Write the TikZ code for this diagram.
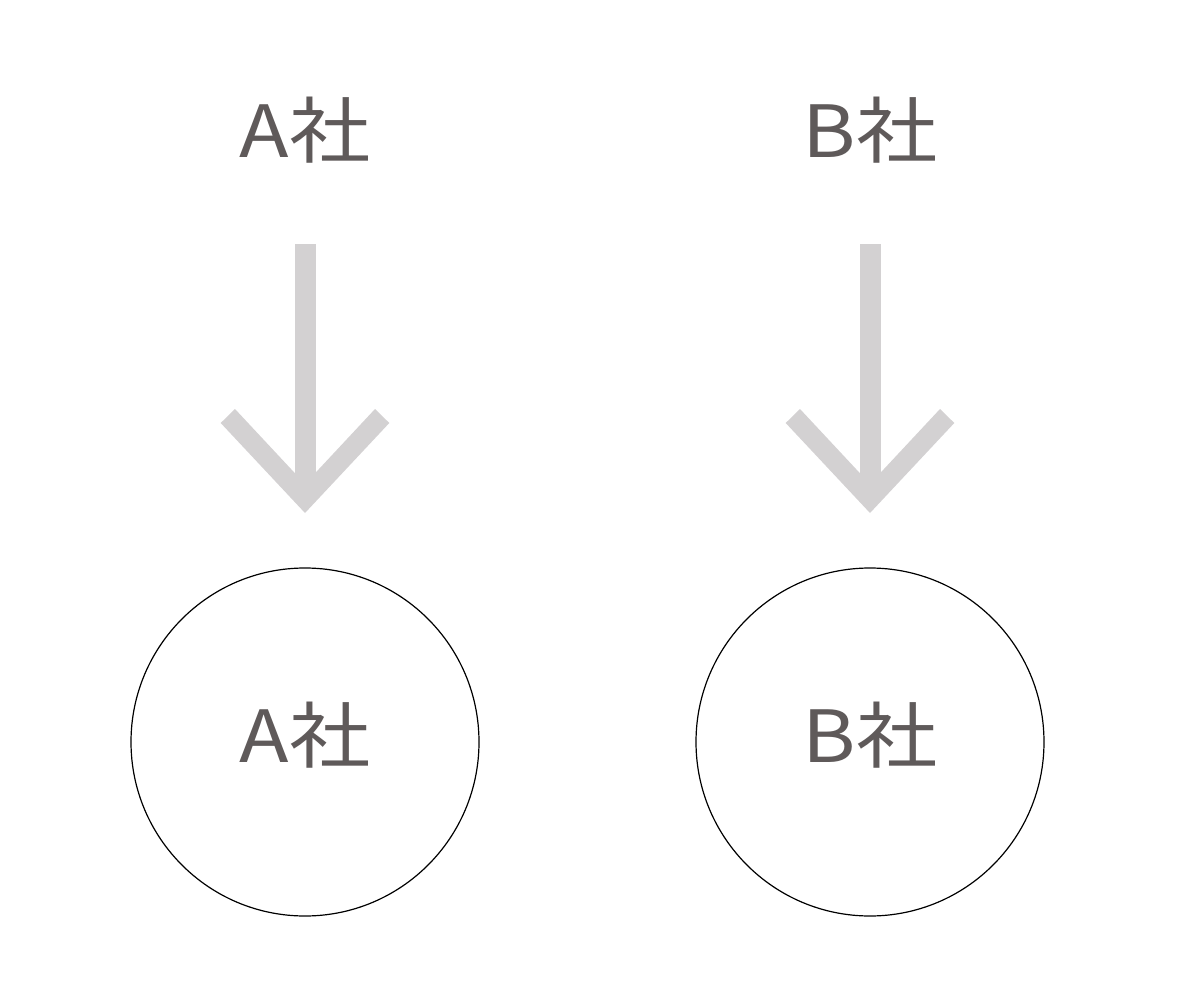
\documentclass[tikz,border=0pt]{standalone}
\usepackage{fontspec}
\newfontfamily\jpfont[FakeStretch=1.13]{Noto Sans CJK JP}
\definecolor{txtgray}{HTML}{5F5A5A}
\definecolor{arrowgray}{HTML}{D3D1D2}
\begin{document}
\begin{tikzpicture}[x=0.5pt,y=-0.5pt,
  lbl/.style={font=\jpfont\fontsize{36}{40}\selectfont, text=txtgray, inner sep=0pt},
  ring/.style={circle, draw=black, line width=0.6pt, minimum size=174pt, inner sep=0pt},
  arrowfill/.style={fill=arrowgray, draw=none}]
\useasboundingbox (0,0) rectangle (1200,1000);
% top labels
\node[lbl] (ta) at (305,130) {A社};
\node[lbl] (tb) at (870,130) {B社};
% circles
\node[ring] (ca) at (305,742) {};
\node[ring] (cb) at (870,742) {};
\node[lbl] (la) at (305,735) {A社};
\node[lbl] (lb) at (870,735) {B社};
% arrows
\foreach \cx in {305,870}{
  \fill[arrowfill] (\cx-10.5,244) rectangle (\cx+10.5,486);
  \fill[arrowfill] (\cx-84.3,423) -- (\cx,513) -- (\cx+84.3,423) -- (\cx+70,409) -- (\cx,484) -- (\cx-70,409) -- cycle;
}
\end{tikzpicture}
\end{document}
